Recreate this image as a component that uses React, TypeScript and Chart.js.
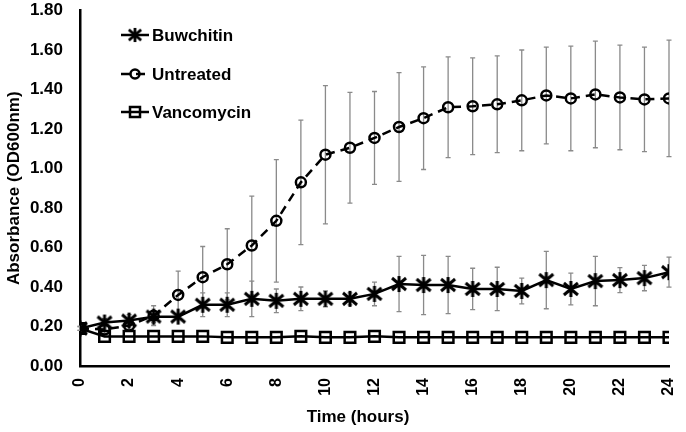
import React, { useEffect, useRef } from 'react';
import { Chart, registerables } from 'chart.js';

Chart.register(...registerables);

const hours = [0, 1, 2, 3, 4, 5, 6, 7, 8, 9, 10, 11, 12, 13, 14, 15, 16, 17, 18, 19, 20, 21, 22, 23, 24];

const buwchitin = [0.19, 0.22, 0.23, 0.25, 0.25, 0.31, 0.31, 0.34, 0.33, 0.34, 0.34, 0.34, 0.365, 0.415, 0.41, 0.41, 0.39, 0.39, 0.38, 0.435, 0.39, 0.43, 0.435, 0.445, 0.475];
const buwchitinErr = [0.01, 0.02, 0.03, 0.03, 0.01, 0.06, 0.06, 0.09, 0.06, 0.06, 0.04, 0.03, 0.06, 0.14, 0.15, 0.145, 0.105, 0.11, 0.065, 0.145, 0.08, 0.125, 0.063, 0.064, 0.076];

const untreated = [0.19, 0.185, 0.205, 0.255, 0.36, 0.45, 0.515, 0.61, 0.735, 0.93, 1.07, 1.105, 1.155, 1.21, 1.255, 1.31, 1.315, 1.325, 1.345, 1.37, 1.355, 1.375, 1.36, 1.35, 1.355];
const untreatedErr = [0.01, 0.02, 0.03, 0.05, 0.12, 0.155, 0.18, 0.25, 0.31, 0.315, 0.35, 0.28, 0.235, 0.275, 0.26, 0.255, 0.245, 0.245, 0.255, 0.245, 0.265, 0.27, 0.265, 0.265, 0.295];

const vancomycin = [0.19, 0.15, 0.15, 0.15, 0.15, 0.15, 0.145, 0.145, 0.145, 0.15, 0.145, 0.145, 0.15, 0.145, 0.145, 0.145, 0.145, 0.145, 0.145, 0.145, 0.145, 0.145, 0.145, 0.145, 0.145];
const vancomycinErr = [0, 0, 0, 0, 0, 0, 0, 0, 0, 0, 0, 0, 0, 0, 0, 0, 0, 0, 0, 0, 0, 0, 0, 0, 0];

const seriesNames = ['Buwchitin', 'Untreated', 'Vancomycin'];
const errors = [buwchitinErr, untreatedErr, vancomycinErr];

const FONT = '"Liberation Sans", Arial, sans-serif';

// six-armed asterisk marker like the original's
const makeAsterisk = () => {
  const c = document.createElement('canvas');
  c.width = 18;
  c.height = 18;
  const g = c.getContext('2d');
  if (g) {
    g.strokeStyle = '#000';
    g.lineWidth = 3;
    g.beginPath();
    g.moveTo(9, 1); g.lineTo(9, 17);
    g.moveTo(2, 3); g.lineTo(16, 15);
    g.moveTo(16, 3); g.lineTo(2, 15);
    g.stroke();
  }
  return c;
};

const errorBars = {
  id: 'errorBars',
  beforeDatasetsDraw(chart: any) {
    const { ctx, scales } = chart;
    ctx.save();
    ctx.strokeStyle = '#8a8a8a';
    ctx.lineWidth = 1.3;
    chart.data.datasets.forEach((ds: any, di: number) => {
      const errs = errors[di];
      ds.data.forEach((p: any, i: number) => {
        const e = errs[i];
        if (!e) return;
        const px = scales.x.getPixelForValue(p.x);
        const top = scales.y.getPixelForValue(p.y + e);
        const bot = scales.y.getPixelForValue(p.y - e);
        ctx.beginPath();
        ctx.moveTo(px, top); ctx.lineTo(px, bot);
        ctx.moveTo(px - 2.5, top); ctx.lineTo(px + 2.5, top);
        ctx.moveTo(px - 2.5, bot); ctx.lineTo(px + 2.5, bot);
        ctx.stroke();
      });
    });
    ctx.restore();
  },
};

const lineLegend = {
  id: 'lineLegend',
  afterDraw(chart: any) {
    const { ctx } = chart;
    const left = 121;
    const rows = [35, 74, 112];
    chart.data.datasets.forEach((ds: any, i: number) => {
      const yy = rows[i];
      const mx = left + 14;
      ctx.save();
      ctx.strokeStyle = '#000';
      ctx.lineWidth = 2.5;
      ctx.setLineDash(ds.borderDash || []);
      ctx.beginPath();
      ctx.moveTo(left, yy);
      ctx.lineTo(left + 28, yy);
      ctx.stroke();
      ctx.setLineDash([]);
      if (ds.pointStyle === 'circle') {
        ctx.beginPath();
        ctx.arc(mx, yy, 4.5, 0, Math.PI * 2);
        ctx.stroke();
      } else if (ds.pointStyle === 'rect') {
        ctx.strokeRect(mx - 5, yy - 5, 10, 10);
      } else if (ds.pointStyle) {
        ctx.drawImage(ds.pointStyle, mx - 8, yy - 8, 16, 16);
      }
      ctx.font = `bold 17px ${FONT}`;
      ctx.fillStyle = '#000';
      ctx.textBaseline = 'middle';
      ctx.fillText(ds.label, left + 31, yy + 1);
      ctx.restore();
    });
  },
};

const GrowthChart: React.FC = () => {
  const canvasRef = useRef<HTMLCanvasElement | null>(null);

  useEffect(() => {
    const ctx = canvasRef.current?.getContext('2d');
    if (!ctx) return;

    const toPoints = (vals: number[]) => hours.map((h, i) => ({ x: h, y: vals[i] }));

    const chart = new Chart(ctx, {
      type: 'line',
      data: {
        datasets: [
          {
            label: seriesNames[0],
            data: toPoints(buwchitin),
            borderColor: '#000',
            borderWidth: 2.5,
            pointStyle: makeAsterisk(),
            pointRadius: 8,
            backgroundColor: 'transparent',
          },
          {
            label: seriesNames[1],
            data: toPoints(untreated),
            borderColor: '#000',
            borderWidth: 2.5,
            borderDash: [9, 6],
            pointStyle: 'circle',
            pointRadius: 5,
            pointBorderWidth: 2.5,
            pointBackgroundColor: 'transparent',
            backgroundColor: 'transparent',
          },
          {
            label: seriesNames[2],
            data: toPoints(vancomycin),
            borderColor: '#000',
            borderWidth: 2.5,
            pointStyle: 'rect',
            pointRadius: 7.5,
            pointBorderWidth: 2.5,
            pointBackgroundColor: 'transparent',
            backgroundColor: 'transparent',
          },
        ],
      },
      options: {
        animation: false,
        responsive: false,
        layout: { padding: { top: 10, right: 17, bottom: 0, left: 0 } },
        plugins: {
          legend: { display: false },
          tooltip: { enabled: false },
        },
        scales: {
          x: {
            type: 'linear',
            min: 0,
            max: 24,
            grid: { display: false, drawTicks: false },
            border: { color: '#000', width: 2.5 },
            ticks: {
              stepSize: 2,
              minRotation: 90,
              maxRotation: 90,
              padding: 12,
              color: '#000',
              font: { family: FONT, size: 16, weight: 'bold' },
            },
            title: {
              display: true,
              text: 'Time (hours)' + '       ',
              color: '#000',
              font: { family: FONT, size: 17, weight: 'bold' },
              padding: { top: 0, bottom: 4 },
            },
            afterFit: (s: any) => {
              s.height = 66;
              s.paddingLeft = 0;
              s.paddingRight = 0;
            },
          },
          y: {
            min: 0,
            max: 1.8,
            grid: { display: false, drawTicks: false },
            border: { color: '#000', width: 2.5 },
            ticks: {
              stepSize: 0.2,
              padding: 17,
              color: '#000',
              font: { family: FONT, size: 17, weight: 'bold' },
              callback: (v: any) => Number(v).toFixed(2),
            },
            title: {
              display: true,
              text: 'Absorbance (OD600nm)',
              color: '#000',
              font: { family: FONT, size: 17, weight: 'bold' },
              padding: { top: 4, bottom: 0 },
            },
            afterFit: (s: any) => {
              s.width = 80;
              s.paddingTop = 0;
              s.paddingBottom = 0;
            },
          },
        },
      },
      plugins: [errorBars, lineLegend],
    });

    return () => {
      chart.destroy();
    };
  }, []);

  return <canvas ref={canvasRef} width={686} height={432}></canvas>;
};

const App: React.FC = () => (
  <div style={{ position: 'fixed', left: 0, top: 0, width: 686, height: 432, background: '#fff' }}>
    <GrowthChart />
  </div>
);

export default App;
